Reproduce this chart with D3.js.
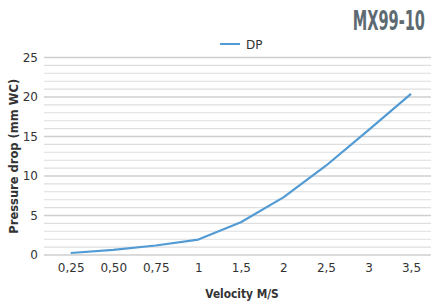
<!DOCTYPE html>
<html>
<head>
<meta charset="utf-8">
<script src="https://cdn.jsdelivr.net/npm/d3@7"></script>
<style>
  body { margin: 0; background: #fff; }
  text { font-family: "DejaVu Sans", sans-serif; }
</style>
</head>
<body>
<svg id="chart"></svg>
<script>
var categories = ["0,25", "0,50", "0,75", "1", "1,5", "2", "2,5", "3", "3,5"];
var dpValues = [0.25, 0.65, 1.2, 1.95, 4.15, 7.3, 11.3, 15.8, 20.4];
var yTicks = [0, 5, 10, 15, 20, 25];

var width = 431, height = 305;
var plotLeft = 44, plotRight = 431, plotTop = 57.5, plotBottom = 255;

var svg = d3.select("#chart")
  .attr("width", width)
  .attr("height", height);

var x = d3.scalePoint()
  .domain(categories)
  .range([70.7, 411]);

var y = d3.scaleLinear()
  .domain([0, 25])
  .range([plotBottom, plotTop]);

// gridlines, one per unit, heavier on the labelled ones
svg.append("g")
  .selectAll("line")
  .data(d3.range(0, 26))
  .enter().append("line")
  .attr("x1", plotLeft)
  .attr("x2", plotRight)
  .attr("y1", function (d) { return y(d); })
  .attr("y2", function (d) { return y(d); })
  .attr("stroke", function (d) { return d % 5 === 0 ? "#cfcfcf" : "#dedede"; })
  .attr("stroke-width", function (d) { return d % 5 === 0 ? 1.6 : 1.1; });

// y axis labels
var yAxis = svg.append("g")
  .attr("transform", "translate(" + (plotLeft - 6) + ",0)")
  .call(d3.axisLeft(y).tickValues(yTicks).tickSize(0).tickPadding(0));
yAxis.select(".domain").remove();
yAxis.attr("font-family", null);
yAxis.selectAll("text")
  .attr("font-size", 12)
  .attr("fill", "#333");

// x axis labels
var xAxis = svg.append("g")
  .attr("transform", "translate(0," + (plotBottom + 8) + ")")
  .call(d3.axisBottom(x).tickSize(0).tickPadding(0));
xAxis.select(".domain").remove();
xAxis.attr("font-family", null);
xAxis.selectAll("text")
  .attr("font-size", 12)
  .attr("fill", "#333");

// data line
var line = d3.line()
  .x(function (d, i) { return x(categories[i]); })
  .y(function (d) { return y(d); });

svg.append("path")
  .datum(dpValues)
  .attr("d", line)
  .attr("fill", "none")
  .attr("stroke", "#529bd4")
  .attr("stroke-width", 2.2)
  .attr("stroke-linejoin", "round");

// legend
svg.append("line")
  .attr("x1", 220).attr("x2", 240)
  .attr("y1", 44).attr("y2", 44)
  .attr("stroke", "#529bd4")
  .attr("stroke-width", 2);
svg.append("text")
  .attr("x", 246).attr("y", 48.5)
  .attr("font-size", 12)
  .attr("fill", "#333")
  .text("DP");

// title (squeezed to look like a condensed face)
svg.append("text")
  .attr("transform", "translate(425,29.5) scale(0.56,1)")
  .attr("text-anchor", "end")
  .attr("font-size", 26)
  .attr("font-weight", "bold")
  .attr("fill", "#5d6a72")
  .text("MX99-10");

// axis titles
svg.append("text")
  .attr("transform", "translate(242,298) scale(0.85,1)")
  .attr("text-anchor", "middle")
  .attr("font-size", 12.5)
  .attr("font-weight", "bold")
  .attr("fill", "#333")
  .text("Velocity M/S");

svg.append("text")
  .attr("transform", "translate(18," + ((plotTop + plotBottom) / 2) + ") rotate(-90) scale(0.92,1)")
  .attr("text-anchor", "middle")
  .attr("font-size", 12.5)
  .attr("font-weight", "bold")
  .attr("fill", "#333")
  .text("Pressure drop (mm WC)");
</script>
</body>
</html>
